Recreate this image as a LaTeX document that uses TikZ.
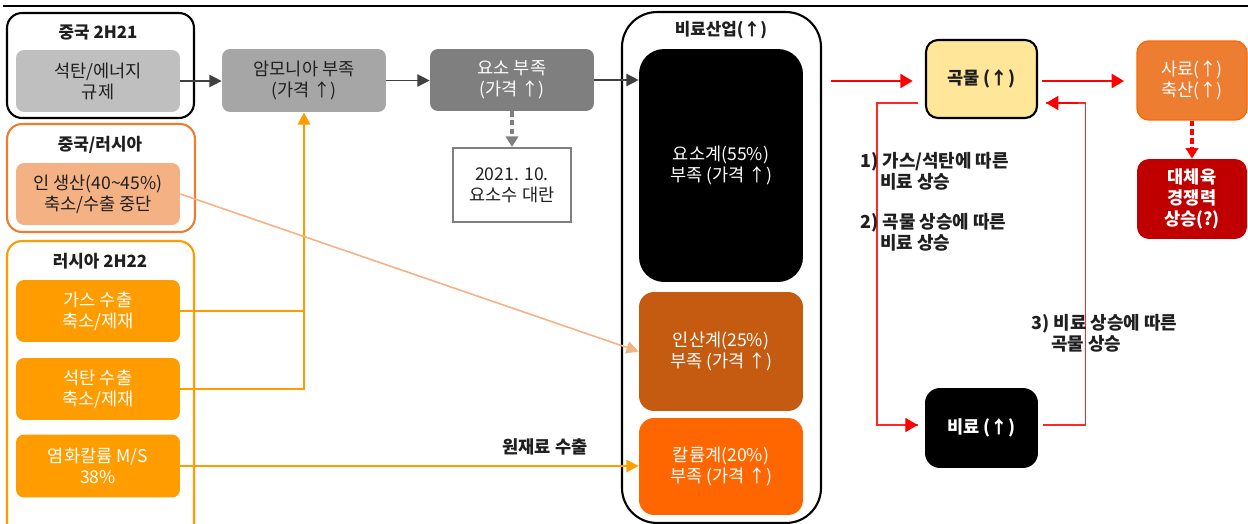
\documentclass[tikz,border=0pt]{standalone}
\usepackage{fontspec}
\setmainfont{Noto Sans CJK KR}
\usetikzlibrary{arrows.meta}
\definecolor{gA}{HTML}{BFBFBF}
\definecolor{gB}{HTML}{A6A6A6}
\definecolor{gC}{HTML}{7F7F7F}
\definecolor{oLine}{HTML}{ED7D31}
\definecolor{oLight}{HTML}{F4B183}
\definecolor{oRu}{HTML}{FF9C00}
\definecolor{oPhos}{HTML}{C55A11}
\definecolor{oPot}{HTML}{FF6600}
\definecolor{yGrain}{HTML}{FFE699}
\definecolor{rMeat}{HTML}{C00000}
\definecolor{txt}{HTML}{1F1F1F}
\begin{document}
\begin{tikzpicture}[x=0.02cm,y=-0.02cm,
  every node/.style={font=\fontsize{10}{12}\selectfont, text=txt},
  sbox/.style={rounded corners=0.16cm, inner sep=0pt, minimum width=3.28cm, minimum height=1.24cm, align=center},
  frame/.style={rounded corners=0.3cm, line width=1.2pt, inner sep=0pt},
  ttl/.style={font=\fontsize{9.6}{12}\selectfont\bfseries},
  bld/.style={font=\fontsize{10}{12}\selectfont\bfseries},
  lbl/.style={font=\fontsize{10.2}{12}\selectfont\bfseries, align=left, anchor=north west, inner sep=0pt},
  blk/.style={draw=black!75, line width=0.8pt, -{Triangle[length=7pt,width=7pt]}, color=black!75},
  orl/.style={draw=oRu, line width=1pt},
  redthick/.style={draw=red, line width=1.1pt, -{Triangle[length=7pt,width=8pt]}},
  redthin/.style={draw=red!85, line width=0.7pt}
]
\useasboundingbox (0,0) rectangle (1248,524);
\clip (0,0) rectangle (1248,524);
\draw[line width=1.4pt] (3,6) -- (1248,6);

% left column
\node[frame, draw=black, minimum width=3.74cm, minimum height=2.10cm] (cnOuter) at (100.5,65.5) {};
\node[ttl] (cnTitle) at (98,33) {중국 2H21};
\node[sbox, fill=gA] (coal) at (98,81) {석탄/에너지\\규제};

\node[frame, draw=oLine, minimum width=3.76cm, minimum height=2.16cm] (crOuter) at (101,178) {};
\node[ttl] (crTitle) at (100,145) {중국/러시아};
\node[sbox, fill=oLight] (phosProd) at (98,194) {인 생산(40\textasciitilde 45\%)\\축소/수출 중단};

\node[frame, draw=oRu, minimum width=3.74cm, minimum height=5.98cm] (ruOuter) at (100.5,390.5) {};
\node[ttl] (ruTitle) at (100,261) {러시아 2H22};
\node[sbox, fill=oRu, text=white] (gas) at (98,311) {가스 수출\\축소/제재};
\node[sbox, fill=oRu, text=white] (coalEx) at (98,389) {석탄 수출\\축소/제재};
\node[sbox, fill=oRu, text=white, minimum height=1.26cm] (kcl) at (98,466) {염화칼륨 M/S\\38\%};

% middle
\node[sbox, fill=gB, minimum height=1.26cm] (ammonia) at (304,80.5) {암모니아 부족\\(가격 ↑)};
\node[sbox, fill=gC, text=white] (urea) at (512,80) {요소 부족\\(가격 ↑)};
\node[draw=gC, line width=1.2pt, fill=white, minimum width=2.36cm, minimum height=1.48cm, align=center, inner sep=0pt] (ureaEvent) at (512,185) {2021. 10.\\요소수 대란};

\node[draw=black, line width=1.2pt, rounded corners=0.7cm, minimum width=3.98cm, minimum height=10.22cm, inner sep=0pt] (fertOuter) at (721.5,267.5) {};
\node[ttl] (fertTitle) at (721,30) {비료산업(↑)};
\node[sbox, fill=black, text=white, rounded corners=0.5cm, minimum height=4.66cm] (ureaSys) at (721,165.5) {요소계(55\%)\\부족 (가격 ↑)};
\node[sbox, fill=oPhos, text=white, rounded corners=0.3cm, minimum height=2.38cm] (phos) at (721,351.5) {인산계(25\%)\\부족 (가격 ↑)};
\node[sbox, fill=oPot, text=white, rounded corners=0.3cm, minimum height=1.94cm] (pot) at (721,466.5) {칼륨계(20\%)\\부족 (가격 ↑)};

% right
\node[sbox, fill=yGrain, draw=black, line width=1.2pt, rounded corners=0.24cm, minimum width=2.22cm, minimum height=1.56cm, bld] (grain) at (981.5,79) {곡물 (↑)};
\node[sbox, fill=oLine, draw=oPot, line width=0.8pt, text=white, rounded corners=0.24cm, minimum width=2.20cm, minimum height=1.58cm] (feed) at (1192,80.5) {사료(↑)\\축산(↑)};
\node[sbox, fill=rMeat, text=white, rounded corners=0.24cm, minimum width=2.20cm, minimum height=1.60cm, bld] (meat) at (1192,199) {대체육\\경쟁력\\상승(?)};
\node[sbox, fill=black, text=white, rounded corners=0.3cm, minimum width=2.26cm, minimum height=1.60cm, bld] (fert) at (981.5,428) {비료 (↑)};

% connectors
\draw[blk] (coal.east) -- (coal.east -| ammonia.west);
\draw[blk] (ammonia.east) -- (ammonia.east -| urea.west);
\draw[blk] (urea.east) -- (urea.east -| ureaSys.west);
\draw[draw=gC, line width=1.8pt, dash pattern=on 3pt off 2pt, -{Triangle[length=6pt,width=7pt]}, color=gC] (urea.south) -- (ureaEvent.north);

\draw[orl] (gas.east) -- (gas.east -| ammonia.south);
\draw[orl, -{Triangle[length=7pt,width=7pt]}, color=oRu] (coalEx.east) -| (ammonia.south);
\draw[draw=oLight, line width=0.9pt, -{Triangle[length=7pt,width=7pt]}, color=oLight] (phosProd.east) -- (phos.west);
\draw[orl, -{Triangle[length=7pt,width=7pt]}, color=oRu] (kcl.east) -- (kcl.east -| pot.west);
\node[bld] (rawLbl) at (545,447) {원재료 수출};

\coordinate (rs) at (831,81);
\draw[redthick] (rs) -- ([xshift=-7]grain.west |- rs);
\coordinate (gf) at (1042,81);
\draw[redthick] (gf) -- ([xshift=-7]feed.west |- gf);
\draw[draw=red, line width=1.8pt, dash pattern=on 3pt off 2pt, -{Triangle[length=6pt,width=7pt]}, color=red] (feed.south) -- (meat.north);

\draw[redthin] ([shift={(-7,24)}]grain.west) -- ++(-41,0) |- ([shift={(-7,-3)}]fert.west);
\draw[redthin, -{Triangle[length=7pt,width=8pt]}, draw=red, color=red] ([shift={(-48,-3)}]fert.west) ++(34,0) -- ([shift={(-7,-3)}]fert.west);
\draw[redthin] ([shift={(5,-3)}]fert.east) -- ++(42,0) |- ([shift={(8,24)}]grain.east);
\draw[-{Triangle[length=7pt,width=8pt]}, draw=red, color=red, line width=0.7pt] ([shift={(40,24)}]grain.east) -- ([shift={(8,24)}]grain.east);

\node[lbl] (l1) at (860,152) {1) 가스/석탄에 따른\\\hspace*{0.4cm}비료 상승};
\node[lbl] (l2) at (860,213) {2) 곡물 상승에 따른\\\hspace*{0.4cm}비료 상승};
\node[lbl] (l3) at (1031,314) {3) 비료 상승에 따른\\\hspace*{0.4cm}곡물 상승};
\end{tikzpicture}
\end{document}
